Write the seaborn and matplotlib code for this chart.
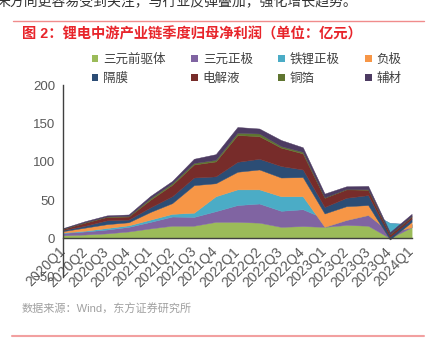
import matplotlib
matplotlib.use("Agg")
from matplotlib import pyplot as plt
from matplotlib.patches import Patch
from matplotlib.lines import Line2D
import seaborn as sns

quarters = ["2020Q1", "2020Q2", "2020Q3", "2020Q4",
            "2021Q1", "2021Q2", "2021Q3", "2021Q4",
            "2022Q1", "2022Q2", "2022Q3", "2022Q4",
            "2023Q1", "2023Q2", "2023Q3", "2023Q4", "2024Q1"]

names = ["三元前驱体", "三元正极", "铁锂正极", "负极",
         "隔膜", "电解液", "铜箔", "辅材"]

precursor = [4, 5, 6.5, 9, 13, 16.5, 16.5, 21.5, 21.5, 20.5, 15, 16, 15, 17.5, 16.5, 0.3, 14.5]
ncm_cathode = [3, 4, 5, 6, 8.5, 12, 11.5, 14, 22, 25, 21, 22, 11, 12.5, 19, 19.7, 4]
lfp_cathode = [0.5, 1, 2, 2, 3, 3.5, 5.5, 19.5, 20.5, 18.5, 19, 17, -11, -6, -5, -12, -4]
anode = [2, 4, 5, 4, 10, 14, 36, 17, 23, 26, 24.5, 25, 17.5, 18, 13, -9.5, 7]
separator = [1.5, 2.5, 5, 3.5, 6, 9, 10, 9, 13, 14, 15, 10, 8.5, 11, 13, 3.5, 4]
electrolyte = [1.5, 4, 4.5, 4, 10, 15, 17, 19.5, 35, 29.5, 24, 21, 12, 11, 7, 3, 3]
copper_foil = [0.3, 0.5, 0.5, 0.7, 2, 2, 2, 2, 3, 3.5, 2, 2, 0.5, 0.5, 0.5, 0.5, 0.5]
auxiliary = [0.7, 1.5, 1.5, 2, 3, 3, 5.5, 7.5, 7.5, 6.5, 8, 6, 5, 3.5, 4.5, 2.5, 3]

series = [precursor, ncm_cathode, lfp_cathode, anode,
          separator, electrolyte, copper_foil, auxiliary]
colors = ["#9BBB59", "#8064A2", "#4BACC6", "#F79646",
          "#2C4D75", "#772C2A", "#5F7530", "#4D3B62"]

sns.set_theme(style="white")
plt.rcParams["font.family"] = ["Liberation Sans", "Noto Sans CJK SC", "DejaVu Sans"]

fig = plt.figure(figsize=(4.44, 3.52), dpi=100)
ax = fig.add_axes([0.1426, 0.2142, 0.7845, 0.5435])

x = list(range(len(quarters)))
ax.stackplot(x, *series, colors=colors, linewidth=0.3, edgecolor="face")

for s in ["top", "right"]:
    ax.spines[s].set_visible(False)
ax.spines["bottom"].set_position(("data", 0))
ax.spines["bottom"].set_color("#404040")
ax.spines["left"].set_color("#404040")
ax.spines["bottom"].set_linewidth(1)
ax.spines["left"].set_linewidth(1)
ax.spines["bottom"].set_zorder(5)

ax.set_xlim(0, len(quarters) - 1)
ax.set_ylim(-50, 200)
ax.set_yticks([-50, 0, 50, 100, 150, 200])
ax.set_xticks(x)
ax.set_xticklabels(quarters)

ax.tick_params(axis="x", direction="out", length=4, width=0.8, color="#404040",
               labelsize=10, labelcolor="#595959", pad=4)
ax.tick_params(axis="y", direction="in", length=3, width=0.8, color="#404040",
               labelsize=9.5, labelcolor="#595959", pad=6)
plt.setp(ax.get_xticklabels(), rotation=45, ha="right", va="center",
         rotation_mode="anchor")
ax.set_xlabel("")
ax.set_ylabel("")

# legend fills column by column, so reorder to read row by row
order = [0, 4, 1, 5, 2, 6, 3, 7]
handles = [Patch(facecolor=colors[i], edgecolor="none") for i in order]
labels = [names[i] for i in order]
fig.legend(handles, labels, loc="upper left", bbox_to_anchor=(0.195, 0.862),
           ncol=4, frameon=False, fontsize=9, handlelength=0.55,
           handleheight=0.55, handletextpad=0.4, columnspacing=2.0,
           labelspacing=0.55, borderaxespad=0, labelcolor="#404040")

fig.text(-0.008, 1 - 2 / 352, "来方向更容易受到关注，与行业反弹叠加，强化增长趋势。",
         fontsize=10, color="#333333", va="center", ha="left")
fig.add_artist(Line2D([13 / 444, 424 / 444], [1 - 21.3 / 352] * 2,
                      color="#F08C8C", linewidth=1.0))
fig.text(22 / 444, 1 - 34 / 352, "图 2：锂电中游产业链季度归母净利润（单位：亿元）",
         fontsize=10.3, fontweight="bold", color="#E8252B", va="center", ha="left")
fig.text(22 / 444, 1 - 309 / 352, "数据来源：Wind，东方证券研究所",
         fontsize=8, color="#A0A0A0", va="center", ha="left")
fig.add_artist(Line2D([12 / 444, 424 / 444], [1 - 336 / 352] * 2,
                      color="#F2A0A0", linewidth=1.5))

fig.savefig("out.png", dpi=100)
